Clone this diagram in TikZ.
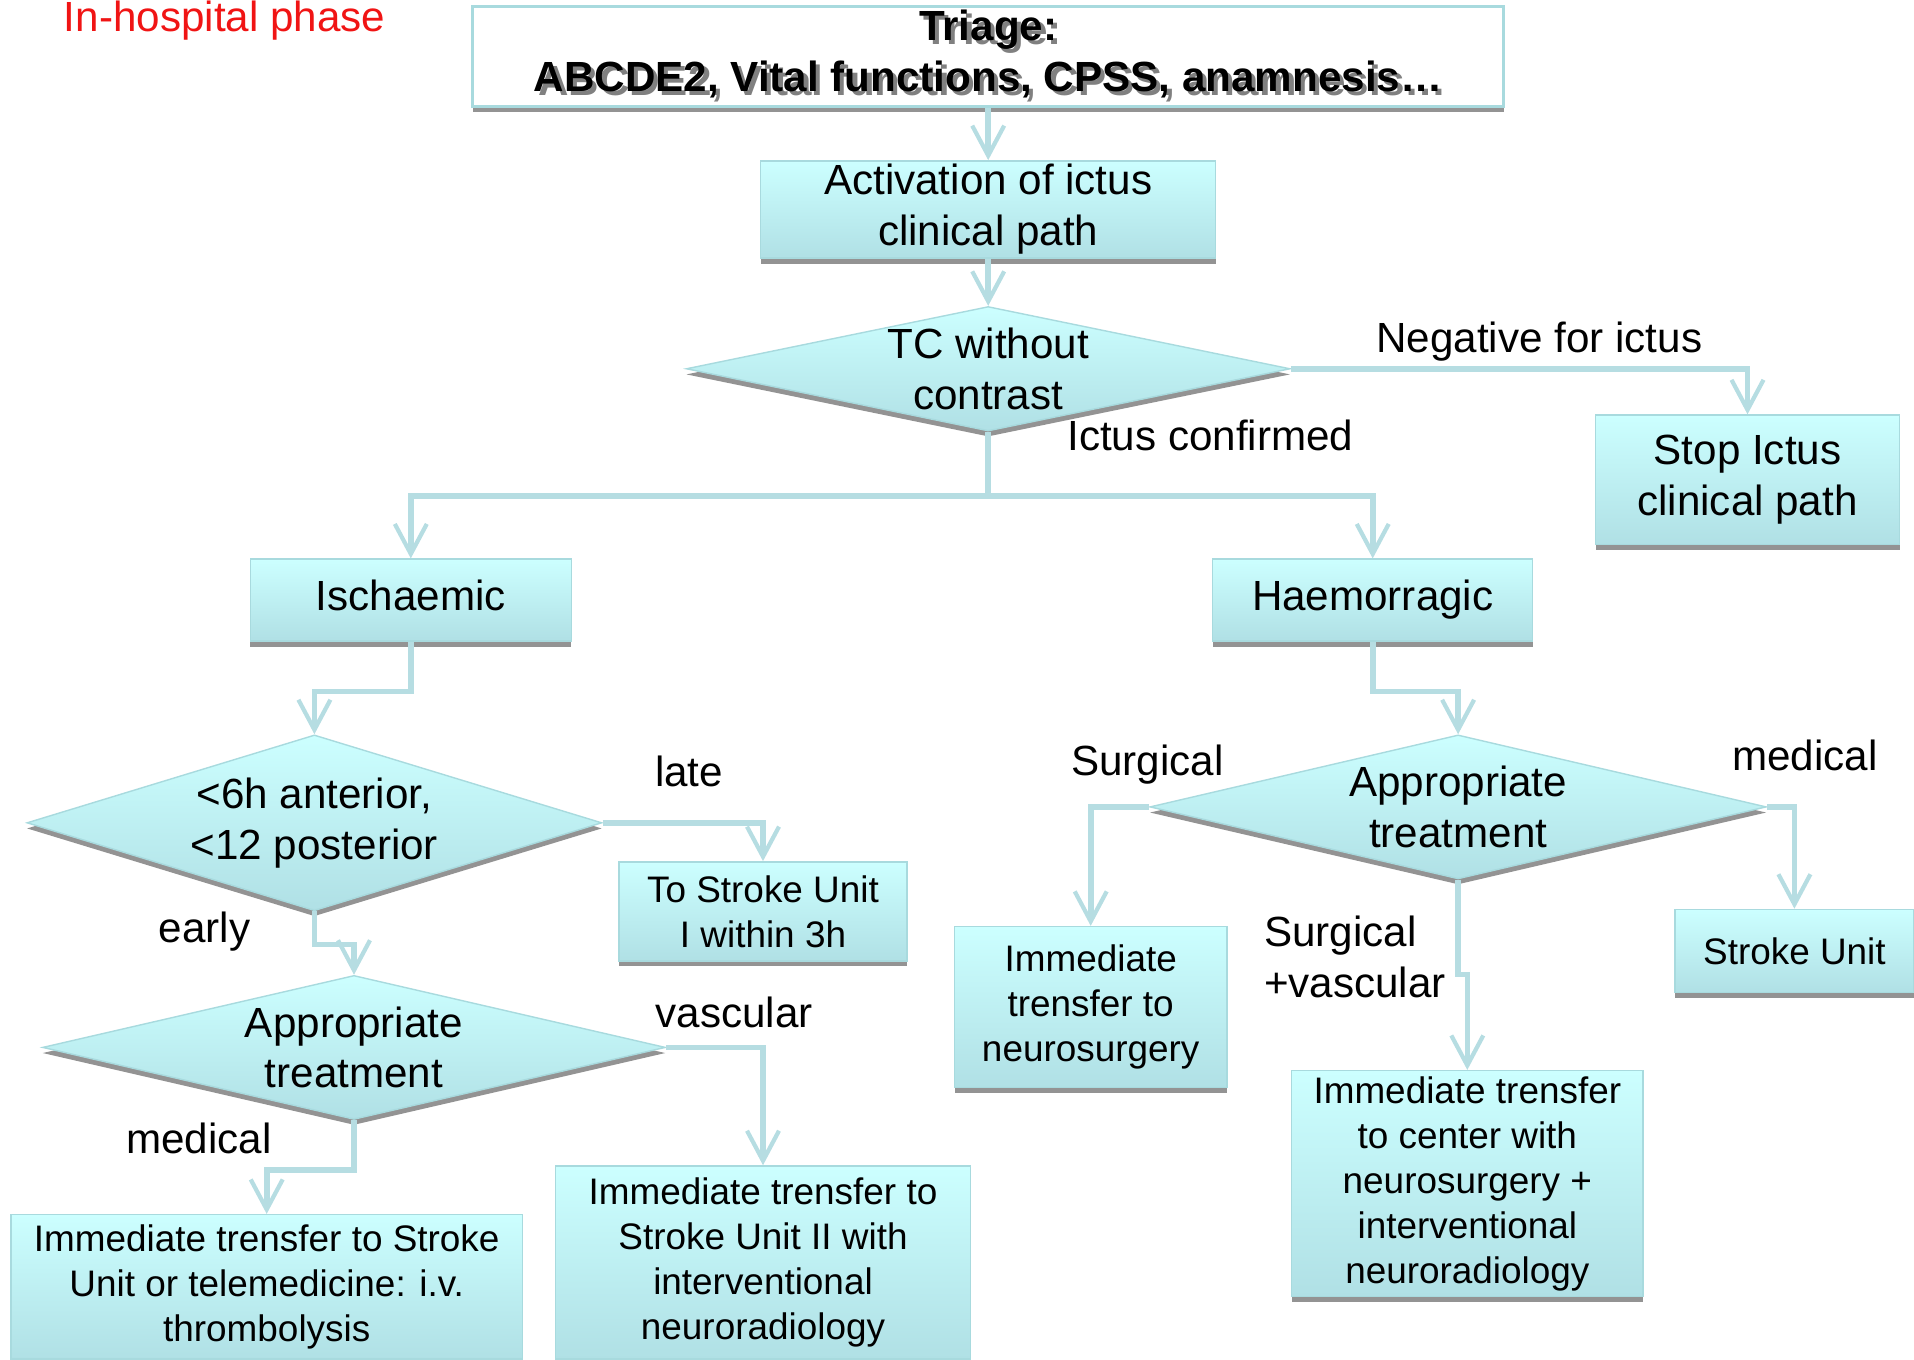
\documentclass[tikz,border=0pt]{standalone}
\usepackage{fontspec}
\setmainfont{Liberation Sans}
\usetikzlibrary{shapes.geometric, arrows.meta, positioning, shadows}
\definecolor{boxtop}{RGB}{204,255,255}
\definecolor{boxbottom}{RGB}{176,224,229}
\definecolor{boxline}{RGB}{168,218,222}
\definecolor{linkcol}{RGB}{182,221,226}
\definecolor{phasered}{RGB}{240,20,20}
\newcommand{\bigtext}{\fontsize{12}{14.5}\selectfont}
\newcommand{\smalltext}{\fontsize{10.5}{12.8}\selectfont}
\newcommand{\shadowline}[1]{\makebox[0pt][l]{\hspace{1.2pt}\raisebox{-1.2pt}{\color{gray}#1}}#1}
\tikzstyle{box_shadow} = [drop shadow={shadow xshift=0pt, shadow yshift=-1.6pt, fill=gray!85, opacity=1}]
\tikzstyle{triage_box} = [rectangle, align=center, inner sep=0pt, draw=boxline, line width=0.8pt, fill=white, font=\bigtext\bfseries, box_shadow]
\tikzstyle{path_box} = [rectangle, align=center, inner sep=1pt, draw=boxline, top color=boxtop, bottom color=boxbottom, font=\bigtext, box_shadow]
\tikzstyle{action_box} = [rectangle, align=center, inner sep=1pt, draw=boxline, top color=boxtop, bottom color=boxbottom, font=\smalltext, box_shadow]
\tikzstyle{decision} = [diamond, aspect=4, inner sep=-4pt, align=center, draw=boxline, top color=boxtop, bottom color=boxbottom, font=\bigtext, box_shadow]
\tikzstyle{branch_label} = [font=\bigtext, inner sep=0pt]
\tikzstyle{arrow} = [line width=1.6pt, draw=linkcol, -{Straight Barb[length=3mm, width=3.2mm, line width=1.2pt]}]

\begin{document}
\begin{tikzpicture}
        \useasboundingbox (0,0) rectangle (19.14,-13.59);
        \node (phase) [branch_label, text=phasered] at (2.246,-0.208) {In-hospital phase};

        \node (triage) [triage_box, minimum width=10.31cm, minimum height=1cm] at (9.882,-0.562) {\shadowline{Triage:}\\\shadowline{ABCDE2, Vital functions, CPSS, anamnesis…}};
        \node (activation) [path_box, minimum width=4.55cm, minimum height=0.964cm, below=0.525cm of triage, anchor=north] {Activation of ictus\\clinical path};
        \node (tc) [decision, minimum width=6.04cm, minimum height=1.245cm, below=0.47cm of activation, anchor=north] {TC without\\contrast};
        \node (stop) [path_box, minimum width=3.04cm, minimum height=1.294cm] at (17.475,-4.797) {Stop Ictus\\clinical path};

        \node (ischaemic) [path_box, minimum width=3.21cm, minimum height=0.818cm, text height=8.6pt, text depth=2.5pt] at (4.108,-6.0) {Ischaemic};
        \node (haemorragic) [path_box, minimum width=3.2cm, minimum height=0.818cm, text height=8.6pt, text depth=2.5pt, right=6.4cm of ischaemic] {Haemorragic};

        \node (onset) [decision, minimum width=5.75cm, minimum height=1.758cm] at (3.144,-8.228) {<6h anterior,\\<12 posterior};
        \node (strokeone) [action_box, minimum width=2.88cm, minimum height=0.99cm] at (7.63,-9.113) {To Stroke Unit\\I within 3h};
        \node (treatl) [decision, minimum width=6.23cm, minimum height=1.44cm] at (3.54,-10.474) {Appropriate\\treatment};
        \node (stroketwo) [action_box, minimum width=4.15cm, minimum height=1.93cm] at (7.63,-12.624) {Immediate trensfer to\\Stroke Unit II with\\interventional\\neuroradiology};
        \node (thrombo) [action_box, minimum width=5.115cm, minimum height=1.444cm] at (2.667,-12.868) {Immediate trensfer to Stroke\\Unit or telemedicine: i.v.\\thrombolysis};

        \node (treatr) [decision, minimum width=6.165cm, minimum height=1.44cm] at (14.581,-8.069) {Appropriate\\treatment};
        \node (neurosurg) [action_box, minimum width=2.722cm, minimum height=1.611cm] at (10.907,-10.071) {Immediate\\trensfer to\\neurosurgery};
        \node (strokeunit) [action_box, minimum width=2.392cm, minimum height=0.83cm] at (17.944,-9.509) {Stroke Unit};
        \node (centre) [action_box, minimum width=3.516cm, minimum height=2.258cm] at (14.673,-11.835) {Immediate trensfer\\to center with\\neurosurgery +\\interventional\\neuroradiology};

        % branch labels
        \node (negative) [branch_label] at (15.393,-3.418) {Negative for ictus};
        \node (confirmed) [branch_label] at (12.103,-4.358) {Ictus confirmed};
        \node (late) [branch_label] at (6.891,-7.715) {late};
        \node (early) [branch_label] at (2.045,-9.314) {early};
        \node (vascular) [branch_label] at (7.343,-10.12) {vascular};
        \node (medicall) [branch_label] at (1.99,-11.389) {medical};
        \node (surgical) [branch_label] at (11.475,-7.642) {Surgical};
        \node (medicalr) [branch_label] at (18.048,-7.556) {medical};
        \node (surgvasc) [branch_label, align=left] at (13.55,-9.57) {Surgical\\+vascular};

        \draw [arrow] (triage) -- (activation);
        \draw [arrow] (activation) -- (tc);
        \draw [arrow] (tc.east) -| (stop.north);
        \draw [arrow] (tc.south) -- ++(0,-0.64) -| (ischaemic.north);
        \draw [arrow] (tc.south) -- ++(0,-0.64) -| (haemorragic.north);
        \draw [arrow] (ischaemic.south) -- ++(0,-0.5) -| (onset.north);
        \draw [arrow] (onset.east) -| (strokeone.north);
        \draw [arrow] (onset.south) -- ++(0,-0.33) -| (treatl.north);
        \draw [arrow] (treatl.east) -| (stroketwo.north);
        \draw [arrow] (treatl.south) -- ++(0,-0.5) -| (thrombo.north);
        \draw [arrow] (haemorragic.south) -- ++(0,-0.5) -| (treatr.north);
        \draw [arrow] (treatr.west) -| (neurosurg.north);
        \draw [arrow] (treatr.east) -| (strokeunit.north);
        \draw [arrow] (treatr.south) -- ++(0,-0.95) -| (centre.north);
    \end{tikzpicture}
\end{document}
